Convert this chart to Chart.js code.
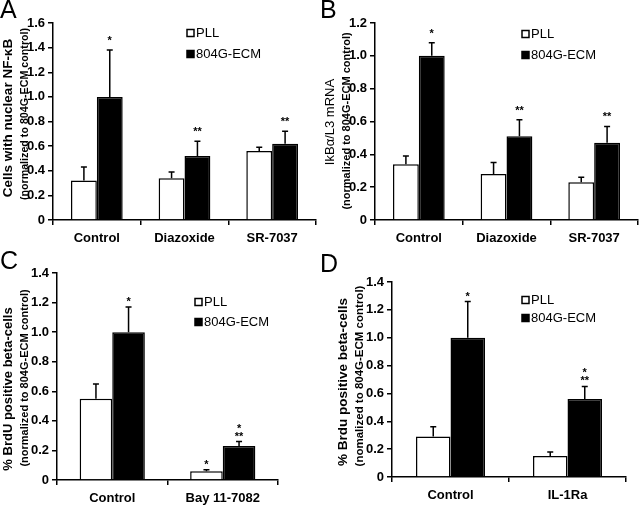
<!DOCTYPE html>
<html>
<head>
<meta charset="utf-8">
<script src="https://cdn.jsdelivr.net/npm/chart.js@4"></script>
<style>
html, body { margin: 0; padding: 0; background: #fff; }
#wrap { position: relative; width: 640px; height: 505px; }
canvas { position: absolute; }
</style>
</head>
<body>
<div id="wrap">
  <canvas id="panelA" width="320" height="250" style="left:0;top:0"></canvas>
  <canvas id="panelB" width="320" height="250" style="left:320px;top:0"></canvas>
  <canvas id="panelC" width="320" height="255" style="left:0;top:250px"></canvas>
  <canvas id="panelD" width="320" height="255" style="left:320px;top:250px"></canvas>
</div>
<script>
const seriesNames = ['PLL', '804G-ECM'];

// A - nuclear NF-kB
const catsA = ['Control', 'Diazoxide', 'SR-7037'];
const pllA = [0.32, 0.34, 0.56];
const pllErrA = [0.11, 0.05, 0.03];
const ecmA = [1.00, 0.52, 0.62];
const ecmErrA = [0.38, 0.12, 0.10];
const pllStarsA = [[], [], []];
const ecmStarsA = [['*'], ['**'], ['**']];

// B - IkBa mRNA
const catsB = ['Control', 'Diazoxide', 'SR-7037'];
const pllB = [0.34, 0.28, 0.23];
const pllErrB = [0.05, 0.07, 0.03];
const ecmB = [1.00, 0.51, 0.47];
const ecmErrB = [0.08, 0.10, 0.10];
const pllStarsB = [[], [], []];
const ecmStarsB = [['*'], ['**'], ['**']];

// C - BrdU with Bay 11-7082
const catsC = ['Control', 'Bay 11-7082'];
const pllC = [0.55, 0.06];
const pllErrC = [0.10, 0.01];
const ecmC = [1.00, 0.23];
const ecmErrC = [0.17, 0.03];
const pllStarsC = [[], ['*']];
const ecmStarsC = [['*'], ['*', '**']];

// D - BrdU with IL-1Ra
const catsD = ['Control', 'IL-1Ra'];
const pllD = [0.29, 0.15];
const pllErrD = [0.07, 0.03];
const ecmD = [1.00, 0.56];
const ecmErrD = [0.26, 0.09];
const pllStarsD = [[], []];
const ecmStarsD = [['*'], ['*', '**']];

const FONT = '"Liberation Sans", Arial, sans-serif';

// error bars, stars, legend, axis titles, panel letter
const extras = {
  id: 'extras',
  afterDatasetsDraw(chart, args, o) {
    const ctx = chart.ctx;
    const y = chart.scales.y;
    ctx.save();
    ctx.strokeStyle = '#000';
    ctx.fillStyle = '#000';
    ctx.lineWidth = 1.5;
    ctx.textAlign = 'center';
    ctx.textBaseline = 'alphabetic';
    ctx.font = 'bold 11px ' + FONT;
    chart.data.datasets.forEach((ds, i) => {
      chart.getDatasetMeta(i).data.forEach((bar, j) => {
        const top = y.getPixelForValue(ds.data[j] + ds.err[j]);
        ctx.beginPath();
        ctx.moveTo(bar.x, bar.y);
        ctx.lineTo(bar.x, top);
        ctx.moveTo(bar.x - 3, top);
        ctx.lineTo(bar.x + 3, top);
        ctx.stroke();
        const st = ds.stars[j];
        st.forEach((s, k) => {
          ctx.fillText(s, bar.x, top - o.starGap - (st.length - 1 - k) * 8 + 8);
        });
      });
    });
    ctx.restore();
  },
  afterDraw(chart, args, o) {
    const ctx = chart.ctx;
    ctx.save();
    ctx.fillStyle = '#000';
    ctx.strokeStyle = '#000';
    // panel letter
    ctx.font = '25px ' + FONT;
    ctx.textBaseline = 'top';
    ctx.textAlign = 'left';
    ctx.fillText(o.letter, 0, o.letterY);
    // legend
    ctx.font = '13px ' + FONT;
    ctx.textBaseline = 'middle';
    ctx.lineWidth = 1.5;
    chart.data.datasets.forEach((ds, i) => {
      const ly = o.legendY[i];
      ctx.fillStyle = ds.backgroundColor;
      ctx.fillRect(o.legendX, ly - 3.5, 7, 7);
      ctx.strokeRect(o.legendX, ly - 3.5, 7, 7);
      ctx.fillStyle = '#000';
      ctx.fillText(ds.label, o.legendX + 9, ly);
    });
    ctx.restore();
    // y titles, two lines of different size
    o.title.forEach((t, i) => {
      ctx.save();
      ctx.fillStyle = '#000';
      ctx.textAlign = 'center';
      ctx.textBaseline = 'middle';
      ctx.translate(o.titleX[i], o.titleY[i]);
      ctx.rotate(-Math.PI / 2);
      ctx.font = o.titleFont[i] + ' ' + FONT;
      ctx.fillText(t, 0, 0);
      ctx.restore();
    });
  }
};

function makePanel(id, box, cats, pll, pllErr, pllStars, ecm, ecmErr, ecmStars, yMax, deco) {
  const cv = document.getElementById(id);
  return new Chart(cv, {
    type: 'bar',
    data: {
      labels: cats,
      datasets: [
        { label: seriesNames[0], data: pll, err: pllErr, stars: pllStars,
          backgroundColor: '#ffffff', borderColor: '#000', borderWidth: 1.5 },
        { label: seriesNames[1], data: ecm, err: ecmErr, stars: ecmStars,
          backgroundColor: '#000000', borderColor: '#000', borderWidth: 1.5 }
      ]
    },
    options: {
      responsive: false,
      animation: false,
      categoryPercentage: 0.59,
      barPercentage: 1.0,
      layout: { padding: { top: box.top, right: cv.width - box.right, left: 0, bottom: 0 } },
      plugins: {
        legend: { display: false },
        tooltip: { enabled: false },
        extras: deco
      },
      scales: {
        x: {
          afterFit: s => { s.height = cv.height - box.bottom; },
          grid: { offset: true, drawOnChartArea: false, drawTicks: true, tickLength: 5, color: '#000', lineWidth: 1.5 },
          border: { color: '#000', width: 1.5 },
          ticks: { color: '#000', font: { family: FONT, size: 13, weight: 'bold' }, padding: 6, maxRotation: 0 }
        },
        y: {
          min: 0, max: yMax,
          afterFit: s => { s.width = box.left; },
          grid: { drawOnChartArea: false, drawTicks: true, tickLength: 5, color: '#000', lineWidth: 1.5 },
          border: { color: '#000', width: 1.5 },
          ticks: {
            stepSize: 0.2, color: '#000', padding: 3,
            font: { family: FONT, size: 13, weight: 'bold' },
            callback: v => (v === 0 ? '0' : v.toFixed(1))
          }
        }
      }
    },
    plugins: [extras]
  });
}

makePanel('panelA', { left: 53, right: 316, top: 23, bottom: 220 },
  catsA, pllA, pllErrA, pllStarsA, ecmA, ecmErrA, ecmStarsA, 1.6,
  { letter: 'A', letterY: -1, legendX: 187, legendY: [33, 54], starGap: 14,
    title: ['Cells with nuclear NF-\u03baB', '(normalized to 804G-ECM control)'],
    titleFont: ['bold 13.5px', 'bold 10.7px'], titleX: [8, 25], titleY: [118, 114] });

makePanel('panelB', { left: 55, right: 318, top: 23, bottom: 220 },
  catsB, pllB, pllErrB, pllStarsB, ecmB, ecmErrB, ecmStarsB, 1.2,
  { letter: 'B', letterY: -1, legendX: 202, legendY: [34, 55], starGap: 14,
    title: ['IkB\u03b1/L3 mRNA', '(normalized to 804G-ECM control)'],
    titleFont: ['13px', 'bold 11px'], titleX: [10, 27], titleY: [122, 121] });

makePanel('panelC', { left: 57, right: 278, top: 23, bottom: 230 },
  catsC, pllC, pllErrC, pllStarsC, ecmC, ecmErrC, ecmStarsC, 1.4,
  { letter: 'C', letterY: 0, legendX: 195, legendY: [52, 72], starGap: 10,
    title: ['% BrdU positive beta-cells', '(normalized to 804G-ECM control)'],
    titleFont: ['bold 13px', 'bold 11px'], titleX: [8, 25], titleY: [139, 128] });

makePanel('panelD', { left: 72, right: 306, top: 32, bottom: 227 },
  catsD, pllD, pllErrD, pllStarsD, ecmD, ecmErrD, ecmStarsD, 1.4,
  { letter: 'D', letterY: 3, legendX: 202, legendY: [50, 68], starGap: 10,
    title: ['% Brdu positive beta-cells', '(nomalized to 804G-ECM control)'],
    titleFont: ['bold 13.5px', 'bold 11.5px'], titleX: [23, 40], titleY: [132, 126] });
</script>
</body>
</html>
